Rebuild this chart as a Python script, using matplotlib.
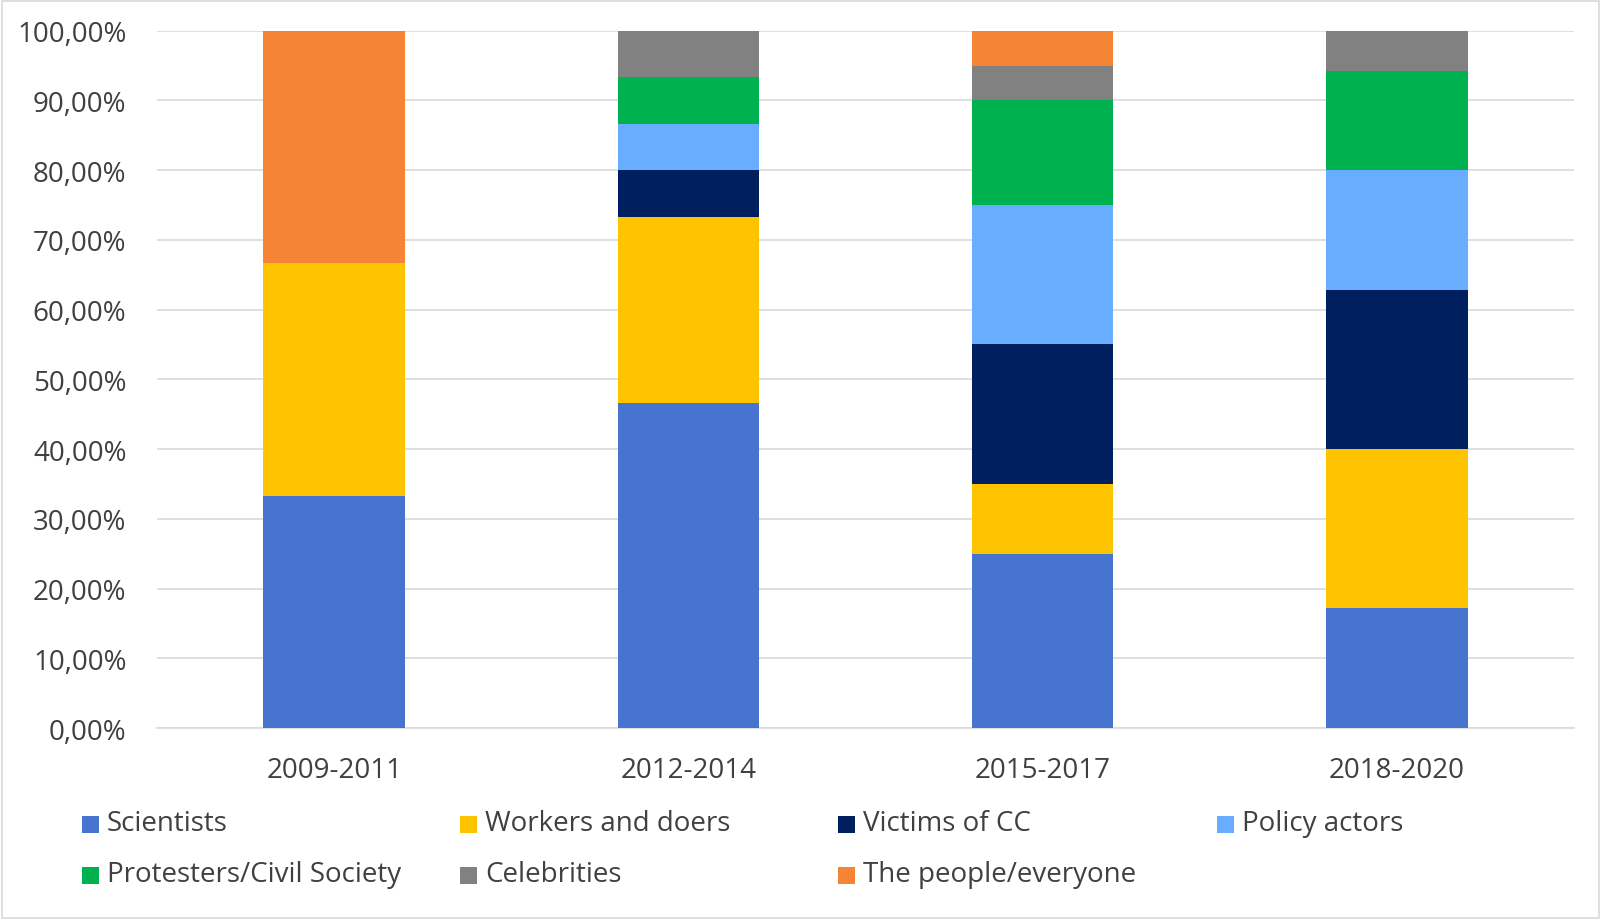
import matplotlib
matplotlib.use("Agg")
import matplotlib.pyplot as plt
from matplotlib.patches import Rectangle
import numpy as np

# ---------- data (percent of each period) ----------
periods = ["2009-2011", "2012-2014", "2015-2017", "2018-2020"]
series_names = ["Scientists", "Workers and doers", "Victims of CC", "Policy actors",
                "Protesters/Civil Society", "Celebrities", "The people/everyone"]
scientists  = [33.33, 46.67, 25.0, 17.14]
workers     = [33.33, 26.67, 10.0, 22.86]
victims     = [0.0,   6.67,  20.0, 22.86]
policy      = [0.0,   6.67,  20.0, 17.14]
protesters  = [0.0,   6.67,  15.0, 14.29]
celebrities = [0.0,   6.67,  5.0,  5.71]
people      = [33.34, 0.0,   5.0,  0.0]

colors = ["#4674CE", "#FFC400", "#001F5E", "#68ADFF", "#00B24F", "#818181", "#F58434"]
# ---------------------------------------------------

values = [scientists, workers, victims, policy, protesters, celebrities, people]
FONT = "Open Sans"
TXT = "#404040"
FS = 20
W, H = 1600, 920

fig = plt.figure(figsize=(W / 100, H / 100), dpi=100)
ax = fig.add_axes([157 / W, 1 - 729 / H, (1574 - 157) / W, (729 - 31.7) / H])

x = np.arange(len(periods))
bottom = np.zeros(len(periods))
for name, vals, c in zip(series_names, values, colors):
    v = np.array(vals)
    ax.bar(x, v, bottom=bottom, width=0.4, color=c, label=name, zorder=3)
    bottom += v

ax.set_xlim(-0.5, len(periods) - 0.5)
ax.set_ylim(0, 100)
ax.set_yticks(np.arange(0, 101, 10))
ax.set_yticklabels([f"{t:.2f}%".replace(".", ",") for t in range(0, 101, 10)],
                   fontsize=FS, color=TXT, family=FONT)
ax.set_xticks(x)
ax.set_xticklabels(periods, fontsize=FS, color=TXT, family=FONT)
ax.tick_params(axis="both", length=0)
ax.tick_params(axis="y", pad=22)
ax.tick_params(axis="x", pad=20)
ax.grid(axis="y", color="#D9D9D9", linewidth=1.2, zorder=0)
for s in ["top", "right", "left"]:
    ax.spines[s].set_visible(False)
ax.spines["bottom"].set_color("#D9D9D9")
ax.spines["bottom"].set_linewidth(1.2)

# legend laid out like Excel: 4 equal columns, 2 rows
col_x = [82, 460, 838, 1217]
row_y = [825, 876]
for i, (name, c) in enumerate(zip(series_names, colors)):
    cx = col_x[i % 4]
    cy = row_y[i // 4]
    fig.patches.append(Rectangle((cx / W, 1 - (cy + 8.5) / H), 17 / W, 17 / H,
                                 transform=fig.transFigure, facecolor=c, edgecolor="none"))
    fig.text((cx + 25) / W, 1 - (cy - 1) / H, name, fontsize=FS, color=TXT,
             family=FONT, va="center", ha="left")

# outer chart border
fig.patches.append(Rectangle((1.5 / W, 1.5 / H), (W - 3) / W, (H - 3) / H,
                             transform=fig.transFigure, facecolor="none",
                             edgecolor="#D9D9D9", linewidth=1.2))

fig.savefig("out.png", dpi=100, facecolor="white")
